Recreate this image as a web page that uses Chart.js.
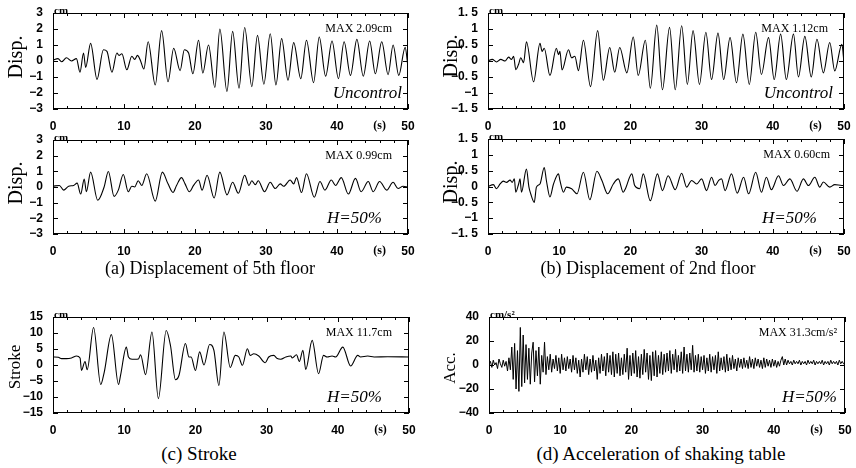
<!DOCTYPE html>
<html>
<head>
<meta charset="utf-8">
<script src="https://cdn.jsdelivr.net/npm/chart.js@4.4.0/dist/chart.umd.min.js"></script>
<style>
  body { margin: 0; background: #fff; }
  #fig { position: relative; width: 856px; height: 468px; overflow: hidden; font-family: 'Liberation Serif', 'DejaVu Serif', serif; color: #000; }
  #fig canvas { position: absolute; }
  .ytitle { position: absolute; transform: translate(-50%, -50%) rotate(-90deg); white-space: nowrap; }
  .cap { position: absolute; transform: translate(-50%, -50%); white-space: nowrap; }
</style>
</head>
<body>
<div id="fig"></div>
<script>
// [time (s), value]: peaks and troughs of each record
const disp5Uncontrol = [[0,0.05],[0.7,0.15],[1.2,-0.05],[1.9,0.2],[2.6,0],[3.3,0.15],[3.8,-0.7],[4.3,0.5],[4.6,-0.4],[5.3,1.1],
  [6.2,-1.15],[7.1,0.7],[7.6,0.6],[8.3,-0.7],[9.0,0.5],[9.3,0.35],[9.7,0.45],[10.4,-0.55],[11.1,0.3],[11.5,0.1],
  [11.9,0.35],[12.3,0.05],[12.8,-0.5],[13.4,1.2],[14.4,-1.5],[15.3,1.9],[16.2,-1.3],[17.0,0.8],[17.9,-0.6],[18.5,0.7],
  [19.1,0.5],[19.7,-0.8],[20.5,1.3],[21.1,-0.75],[21.9,1.0],[22.8,-1.65],[23.5,2.0],[24.5,-1.9],[25.3,1.85],[26.2,-1.7],
  [27.0,2.09],[28.0,-1.6],[28.8,1.6],[29.7,-1.45],[30.6,1.7],[31.4,-1.5],[32.2,1.4],[33.1,-1.2],[33.9,1.15],[34.9,-1.1],
  [35.7,1.3],[36.7,-1.35],[37.5,1.5],[38.4,-0.95],[39.3,1.25],[40.2,-1.1],[41.0,1.2],[41.9,-0.9],[42.8,1.35],[43.7,-0.95],
  [44.6,1.25],[45.4,-0.8],[46.3,1.2],[47.2,-0.85],[47.9,1.0],[48.7,-0.9],[49.6,0.85],[50,-0.4]];

const disp5Half = [[0,0.05],[0.9,0.1],[1.5,-0.2],[2.2,0.05],[2.9,0.1],[3.4,0.25],[3.9,-0.45],[4.4,0.5],[4.7,-0.3],[5.3,0.95],
  [6.3,-0.85],[7.2,0],[7.8,0.99],[8.6,-0.6],[9.2,-0.2],[9.9,0.8],[10.6,-0.3],[11.1,0.05],[11.5,0],[12.0,0.4],
  [12.5,0.1],[13.2,0.85],[14.4,-0.9],[15.4,0.95],[16.2,0.2],[16.9,-0.35],[17.4,0.1],[18.1,0.6],[18.6,0.2],[19.2,-0.3],
  [19.8,0.1],[20.5,0.45],[21.0,-0.2],[21.7,0.75],[22.7,-0.7],[23.5,0.95],[24.5,-0.5],[25.3,0.3],[26.1,-0.4],[27.0,0.75],
  [27.6,0.1],[28.0,0.4],[28.5,0.15],[28.9,0.4],[29.8,-0.3],[30.6,0.3],[31.3,-0.1],[32.0,0.2],[32.5,0.05],[33.4,0.45],
  [33.9,0.2],[34.3,0.6],[35.0,-0.35],[35.7,0.85],[36.8,-0.65],[37.6,0.35],[38.3,-0.2],[39.2,0.45],[39.8,0.1],[40.6,0.6],
  [41.6,-0.45],[42.6,0.55],[43.4,-0.3],[44.4,0.35],[45.1,-0.3],[46.0,0.35],[47.0,-0.2],[47.9,0.3],[48.6,-0.1],[49.3,0.05],[50,0]];

const disp2Uncontrol = [[0,0],[0.6,0.05],[1.2,-0.03],[1.8,0.05],[2.4,0],[2.9,0.12],[3.3,0.05],[3.6,0.15],[3.9,-0.27],[4.3,-0.1],
  [4.6,0.1],[5.0,-0.05],[5.4,0.6],[6.4,-0.65],[7.3,0.55],[7.6,0.3],[7.9,0.4],[8.7,-0.45],[9.6,0.4],[9.9,0.2],
  [10.1,0.3],[10.4,-0.28],[11.3,0.35],[11.75,0.1],[12.2,0.15],[12.7,-0.3],[13.4,0.65],[14.4,-0.8],[15.4,0.95],[16.2,-0.6],
  [17.1,0.42],[17.8,-0.35],[18.5,0.42],[19.5,-0.37],[20.4,0.75],[21.1,-0.45],[22.1,0.65],[22.8,-0.85],[23.7,1.12],[24.5,-0.9],
  [25.5,1.05],[26.3,-0.9],[27.2,1.1],[28.0,-0.73],[28.8,0.95],[29.7,-0.73],[30.6,0.9],[31.4,-0.58],[32.3,0.87],[33.1,-0.58],
  [34.0,0.73],[34.9,-0.68],[35.8,0.84],[36.7,-0.73],[37.6,0.9],[38.4,-0.42],[39.4,0.73],[40.2,-0.58],[41.1,0.84],[41.9,-0.58],
  [42.9,0.84],[43.6,-0.5],[44.5,0.77],[45.4,-0.5],[46.2,0.68],[47.1,-0.37],[48.0,0.58],[48.7,-0.31],[49.7,0.52],[50,-0.05]];

const disp2Half = [[0,0],[0.75,0.06],[1.2,-0.07],[1.7,0.08],[2.15,0.17],[2.6,0.13],[3.1,0.2],[3.4,0.13],[3.7,0.24],[3.9,-0.18],
  [4.3,0.08],[4.5,0.24],[4.7,-0.18],[5.4,0.55],[5.75,-0.02],[6.0,-0.23],[6.5,-0.5],[6.8,-0.02],[7.3,0.08],[7.9,0.6],
  [8.2,0.19],[8.7,-0.33],[9.2,0.08],[9.9,0.4],[10.1,0.19],[10.6,-0.18],[11.0,-0.02],[11.75,-0.07],[12.5,-0.23],[13.4,0.45],
  [14.3,-0.42],[15.3,0.48],[16.0,0.19],[16.8,-0.23],[17.6,0.08],[18.3,0.24],[19.0,-0.18],[19.3,-0.07],[20.2,0.4],[20.6,0.03],
  [21.3,-0.07],[21.8,0.4],[22.8,-0.45],[23.8,0.4],[24.5,-0.13],[25.3,0.34],[26.3,-0.1],[27.2,0.42],[27.9,-0.02],[28.6,0.19],
  [29.3,0.08],[30.0,0.24],[30.7,-0.13],[31.4,0.29],[31.9,0.03],[32.4,0.19],[32.8,0.24],[33.3,-0.13],[34.2,0.4],[35.0,-0.21],
  [35.9,0.29],[36.6,-0.23],[37.6,0.45],[38.4,-0.18],[39.1,0.29],[39.8,-0.1],[40.8,0.34],[41.5,0.03],[42.4,0.24],[43.4,-0.15],
  [44.3,0.24],[45.0,0.03],[45.9,0.29],[46.6,-0.02],[47.1,0.14],[48.0,-0.02],[48.7,0.06],[49.7,0.03],[50,0.03]];

const strokeHalf = [[0,2.5],[0.75,2.4],[1.2,2.0],[1.9,2.0],[2.6,2.2],[3.3,2.8],[3.8,2.2],[4.0,-1.7],[4.5,1.1],[4.8,-1.5],
  [5.7,11.7],[6.7,-6.1],[7.2,-2.2],[8.2,9.5],[9.2,-6.1],[9.5,-3.1],[10.3,5.6],[10.6,2.5],[11.1,1.8],[11.5,1.8],
  [12.0,1.9],[12.3,3.2],[13.0,-3.0],[13.9,10.3],[14.8,-10.5],[15.9,10.8],[16.5,6.1],[17.2,-4.6],[17.7,-3.2],[18.6,6.7],
  [19.1,2.5],[19.4,2.5],[20.0,-1.7],[20.6,4.1],[21.2,0],[22.0,6.4],[22.6,4.6],[23.3,-6.4],[24.0,10.3],[24.9,-0.8],
  [25.6,3.0],[26.1,2.5],[26.6,-0.1],[27.3,5.1],[27.7,3.0],[28.2,3.5],[28.9,2.8],[29.8,0.7],[30.3,2.5],[31.0,3.0],
  [31.5,2.0],[32.0,1.8],[32.7,2.5],[33.4,2.8],[33.6,2.2],[34.2,3.2],[34.6,1.1],[35.1,4.6],[35.5,-1.4],[36.4,7.7],
  [37.3,-2.7],[38.0,3.0],[38.5,2.5],[39.2,2.8],[39.7,2.5],[40.7,5.6],[41.8,-0.3],[42.8,3.0],[43.2,2.5],[44.2,2.8],
  [45.1,2.5],[47.0,2.6],[50,2.5]];

// table acceleration, one value every accStep seconds from 0 s
const accStep = 0.2;
const tableAcc = [
  1, 3, -2, 4, 0, 2, -3, 5, 1, -2, 4, -1, 3,        // 0 - 2.4 s
  -5, 6, -4,                                        // 2.6 - 3.0
  15, -12, 18, -20, 12,  -22, 31.3, -18, 25, -15,   // 3.2 - 5.0
  17, -12, 14, -16, 10,  19, -14, 12, -9, 15,       // 5.2 - 7.0
  -16, 8, -6, 19, -8,                               // 7.2 - 8.0
  7, -4, 9, -6, 5, -3, 8, -5, 6, -7,                // 8.2 - 10
  9, -4, 6, -5, 7, -3, 5, -6, 8, -4,
  6, -7, 4, -10, 5,
  -6, 9, -4, 7, -8, 5, -6, 8, -5, 4,                // 13.2 - 15
  -12, 6, -7, 9, -5, 7, -9, 10, -6, 8,
  -8, 11, -10, 9, -7, 10, -9, 6, -8, 9,
  -6, 14, -12, 8, -9, 10, -7, 12, -10, 7,           // 19.2 - 21
  -11, 9, -8, 13, -6, 10, -12, 8, -13, 11,
  -9, 12, -10, 8, -7, 11, -8, 9, -6, 10,
  -5, 12, -7, 9, -4, 13, -6, 8, -5, 11,             // 25.2 - 27
  -7, 15, -5, 9, -6, 10, -4, 16.4, -6, 8,
  -5, 9, -6, 7, -4, 8, -7, 6, -5, 9,
  -6, 7, -4, 8, -7, 11, -5, 6, -4, 7,               // 31.2 - 33
  -6, 9, -5, 6, -4, 8, -3, 5, -5, 6,
  -2, 5, -3, 6, -2, 4, -3, 7, -2, 5,
  -3, 6, -1, 5, -2, 4, -3, 6, -2, 5,                // 37.2 - 39
  -1, 4, -2, 5, -1, 4, -2, 3, -1, 4,
  7, 0, 5, 0, 4, 1, 3, 0, 4, 1,
  3, 1, 4, 0, 3, 1, 3, 0, 4, 1,                     // 43.2 - 45
  3, 1, 4, 0, 3, 1, 3, 1, 4, 0,
  3, 1, 3, 0, 4, 1, 3, 1, 3, 0,
  4, 1, 3, 1, 2
];

const xTickVals = [0, 10, 20, 30, 40, 46, 50];

const fig = document.getElementById('fig');
const MINUS = '\u2212';

function intLabel(v) { return (v < 0 ? MINUS : '') + Math.abs(v); }
function halfLabel(v) {
  const a = Math.abs(v);
  return (v < 0 ? MINUS : '') + (Number.isInteger(a) ? a : a.toFixed(1).replace('.', '. '));
}

const frame = {
  id: 'frame',
  afterDraw(chart, args, o) {
    const { ctx, chartArea: a, scales: { x, y } } = chart;
    ctx.save();
    ctx.strokeStyle = '#000';
    ctx.lineWidth = 1;
    ctx.strokeRect(a.left + 0.5, a.top + 0.5, a.right - a.left - 1, a.bottom - a.top - 1);
    ctx.beginPath();
    for (let t = 0; t <= 50; t += 2) {
      const px = Math.round(x.getPixelForValue(t)) + 0.5;
      const len = t % 10 === 0 ? 5 : 3;
      ctx.moveTo(px, a.top); ctx.lineTo(px, a.top + len);
      ctx.moveTo(px, a.bottom); ctx.lineTo(px, a.bottom - len);
    }
    for (let v = o.yMin; v <= o.yMax + 1e-9; v += o.yStep) {
      const py = Math.round(y.getPixelForValue(v)) + 0.5;
      ctx.moveTo(a.left, py); ctx.lineTo(a.left + 5, py);
      ctx.moveTo(a.right, py); ctx.lineTo(a.right - 5, py);
    }
    ctx.stroke();

    ctx.fillStyle = '#000';
    ctx.textBaseline = 'alphabetic';
    ctx.textAlign = 'left';
    ctx.font = 'bold 11px "Liberation Serif"';
    ctx.fillText(o.unit, a.left + 1, a.top + 1);

    ctx.textBaseline = 'middle';
    ctx.textAlign = 'right';
    ctx.font = '12px "Liberation Serif"';
    ctx.fillText(o.max, a.right - o.maxRight, a.top + 16);
    ctx.font = 'italic 17px "Liberation Serif"';
    ctx.fillText(o.note, a.right - o.noteRight, a.bottom - 15);
    ctx.restore();
  }
};

function makePanel(p) {
  const [L, T, R, B] = p.box;
  const padL = 50, padT = 12, padR = 14, padB = 24;
  const cv = document.createElement('canvas');
  cv.width = R - L + padL + padR;
  cv.height = B - T + padT + padB;
  cv.style.left = (L - padL) + 'px';
  cv.style.top = (T - padT) + 'px';
  fig.appendChild(cv);

  const tickFont = { family: '"Liberation Sans Narrow", "Liberation Sans", sans-serif', size: 12, weight: 'bold' };
  const sLabelFont = { family: '"Liberation Serif", serif', size: 12, weight: 'bold' };

  new Chart(cv, {
    type: 'line',
    data: {
      datasets: [{
        data: p.data,
        borderColor: '#000',
        borderWidth: p.lineWidth || 1.1,
        pointRadius: 0,
        fill: false,
        tension: 0,
        cubicInterpolationMode: p.smooth ? 'monotone' : 'default'
      }]
    },
    options: {
      responsive: false,
      animation: false,
      events: [],
      layout: { padding: { top: padT, right: padR, left: 0, bottom: 0 } },
      plugins: {
        legend: { display: false },
        tooltip: { enabled: false },
        frame: { yMin: p.yMin, yMax: p.yMax, yStep: p.yStep, unit: p.unit, max: p.max, maxRight: p.maxRight, note: p.note, noteRight: p.noteRight }
      },
      scales: {
        x: {
          type: 'linear', min: 0, max: 50,
          afterFit: s => { s.height = padB; },
          afterBuildTicks: s => { s.ticks = xTickVals.map(v => ({ value: v })); },
          grid: { display: false }, border: { display: false },
          ticks: {
            autoSkip: false, maxRotation: 0, padding: 2, color: '#000',
            font: c => (c.tick && c.tick.value === 46) ? sLabelFont : tickFont,
            callback: v => v === 46 ? '(s)' : String(v)
          }
        },
        y: {
          type: 'linear', min: p.yMin, max: p.yMax,
          afterFit: s => { s.width = padL; },
          grid: { display: false }, border: { display: false },
          ticks: { stepSize: p.yStep, autoSkip: false, padding: 2, color: '#000', font: tickFont, callback: p.fmt }
        }
      }
    },
    plugins: [frame]
  });
}

const panels = [
  { box: [53, 13, 408, 109], data: disp5Uncontrol, smooth: true, yMin: -3, yMax: 3, yStep: 1, fmt: intLabel,
    unit: 'cm', max: 'MAX 2.09cm', maxRight: 16, note: 'Uncontrol', noteRight: 6 },
  { box: [53, 140, 408, 234], data: disp5Half, smooth: true, yMin: -3, yMax: 3, yStep: 1, fmt: intLabel,
    unit: 'cm', max: 'MAX 0.99cm', maxRight: 16, note: 'H=50%', noteRight: 26 },
  { box: [488, 13, 844, 109], data: disp2Uncontrol, smooth: true, yMin: -1.5, yMax: 1.5, yStep: 0.5, fmt: halfLabel,
    unit: 'cm', max: 'MAX 1.12cm', maxRight: 16, note: 'Uncontrol', noteRight: 11 },
  { box: [488, 139, 844, 234], data: disp2Half, smooth: true, yMin: -1.5, yMax: 1.5, yStep: 0.5, fmt: halfLabel,
    unit: 'cm', max: 'MAX 0.60cm', maxRight: 14, note: 'H=50%', noteRight: 27 },
  { box: [53, 317, 409, 413], data: strokeHalf, smooth: true, yMin: -15, yMax: 15, yStep: 5, fmt: intLabel,
    unit: 'cm', max: 'MAX 11.7cm', maxRight: 17, note: 'H=50%', noteRight: 27 },
  { box: [489, 317, 845, 413], data: tableAcc.map((v, i) => [i * accStep, v]), smooth: false, lineWidth: 1,
    yMin: -40, yMax: 40, yStep: 20, fmt: intLabel,
    unit: 'cm/s\u00B2', max: 'MAX 31.3cm/s\u00B2', maxRight: 8, note: 'H=50%', noteRight: 8 }
];
panels.forEach(makePanel);

// axis titles and captions: [class, text, centre x, centre y, font size]
const texts = [
  ['ytitle', 'Disp.', 15, 57, 20], ['ytitle', 'Disp.', 15, 183, 20], ['ytitle', 'Disp.', 450, 56, 20], ['ytitle', 'Disp.', 450, 182, 20],
  ['ytitle', 'Stroke', 15, 367, 17], ['ytitle', 'Acc.', 450, 368, 17],
  ['cap', '(a) Displacement of 5th floor', 210, 268, 18], ['cap', '(b) Displacement of 2nd floor', 648, 268, 18],
  ['cap', '(c) Stroke', 199, 454, 19], ['cap', '(d) Acceleration of shaking table', 661, 454, 19]
];
texts.forEach(([cls, txt, x, y, size]) => {
  const d = document.createElement('div');
  d.className = cls;
  d.textContent = txt;
  d.style.left = x + 'px';
  d.style.top = y + 'px';
  d.style.fontSize = size + 'px';
  fig.appendChild(d);
});
</script>
</body>
</html>
